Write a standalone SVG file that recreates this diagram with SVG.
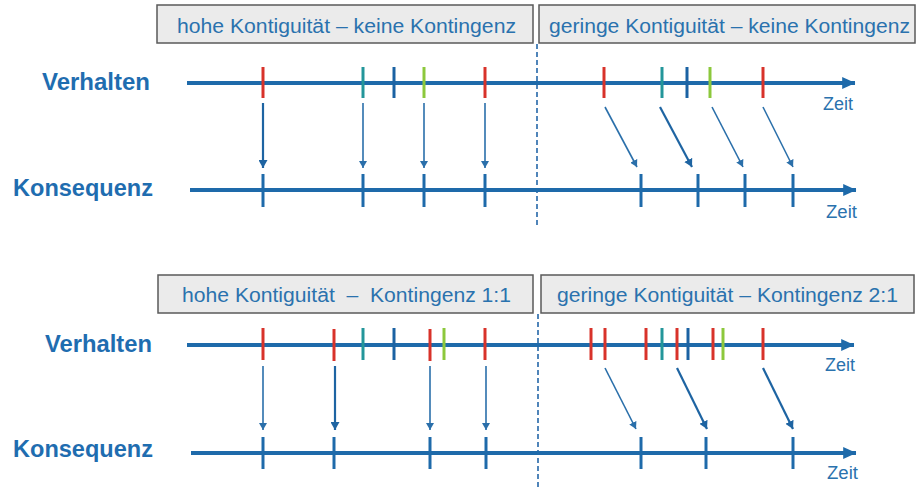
<svg xmlns="http://www.w3.org/2000/svg" width="916" height="487" viewBox="0 0 916 487">
  <style>
    .bg { fill: #ffffff; }
    .box { fill: #ebebeb; stroke: #5a5a5a; stroke-width: 1.5; }
    .boxtxt { font-family: "Liberation Sans", Arial, sans-serif; font-size: 20px; fill: #2a72ae; white-space: pre; }
    .lbl { font-family: "Liberation Sans", Arial, sans-serif; font-size: 23px; font-weight: bold; fill: #1f6db0; }
    .zeit { font-family: "Liberation Sans", Arial, sans-serif; font-size: 17.5px; fill: #2a72ae; }
    .axis { stroke: #1e6aaa; stroke-width: 4; fill: none; }
    .tick { stroke-width: 3; }
    .red { stroke: #d8322a; }
    .teal { stroke: #23969a; }
    .blue { stroke: #1b62a3; }
    .green { stroke: #8cc83c; }
    .ctick { stroke: #1e6aaa; stroke-width: 3; }
    .arr { stroke: #2a6faa; stroke-width: 1.6; fill: none; marker-end: url(#head); }
    .arr-b { stroke: #1e64a2; stroke-width: 2.2; fill: none; marker-end: url(#head2); }
    .divider { stroke: #3d78b2; stroke-width: 1.8; stroke-dasharray: 5 3; }
  </style>
  <defs>
    <marker id="axisHead" markerWidth="4" markerHeight="4" refX="3.2" refY="2" orient="auto" markerUnits="strokeWidth">
      <path d="M0,0.5 L3.3,2 L0,3.5 Z" fill="#1e6aaa"/>
    </marker>
    <marker id="head" markerWidth="8" markerHeight="8" refX="7" refY="4" orient="auto" markerUnits="userSpaceOnUse">
      <path d="M0,0 L7,4 L0,8 Z" fill="#2a6faa"/>
    </marker>
    <marker id="head2" markerWidth="9" markerHeight="9" refX="8" refY="4.5" orient="auto" markerUnits="userSpaceOnUse">
      <path d="M0,0 L8,4.5 L0,9 Z" fill="#1e64a2"/>
    </marker>
  </defs>
  <rect class="bg" x="0" y="0" width="916" height="487"/>

  <!-- dashed divider between the two conditions -->
  <g id="dividers">
    <line class="divider" x1="537" y1="44" x2="537" y2="228"/>
    <line class="divider" x1="538" y1="314" x2="538" y2="487"/>
  </g>

  <!-- ===== upper panel ===== -->
  <g id="title-top-left">
    <rect class="box" x="157" y="5" width="376" height="38"/>
    <text class="boxtxt" x="177" y="33" textLength="339" lengthAdjust="spacingAndGlyphs">hohe Kontiguität – keine Kontingenz</text>
  </g>
  <g id="title-top-right">
    <rect class="box" x="539" y="5" width="376" height="38"/>
    <text class="boxtxt" x="549" y="33" textLength="361" lengthAdjust="spacingAndGlyphs">geringe Kontiguität – keine Kontingenz</text>
  </g>

  <g id="verhalten-top">
    <text class="lbl" x="42" y="90" textLength="108" lengthAdjust="spacingAndGlyphs">Verhalten</text>
    <line class="axis" x1="187" y1="83" x2="855" y2="83" marker-end="url(#axisHead)"/>
    <text class="zeit" x="823" y="110" textLength="30" lengthAdjust="spacingAndGlyphs">Zeit</text>
    <line class="tick red" x1="263" y1="67" x2="263" y2="98"/>
    <line class="tick teal" x1="363" y1="67" x2="363" y2="98"/>
    <line class="tick blue" x1="394" y1="67" x2="394" y2="98"/>
    <line class="tick green" x1="424" y1="67" x2="424" y2="98"/>
    <line class="tick red" x1="485" y1="67" x2="485" y2="98"/>
    <line class="tick red" x1="604" y1="67" x2="604" y2="98"/>
    <line class="tick teal" x1="662" y1="67" x2="662" y2="98"/>
    <line class="tick blue" x1="687" y1="67" x2="687" y2="98"/>
    <line class="tick green" x1="710" y1="67" x2="710" y2="98"/>
    <line class="tick red" x1="763" y1="67" x2="763" y2="98"/>
  </g>

  <g id="konsequenz-top">
    <text class="lbl" x="13" y="196" textLength="140" lengthAdjust="spacingAndGlyphs">Konsequenz</text>
    <line class="axis" x1="190" y1="190" x2="856" y2="190" marker-end="url(#axisHead)"/>
    <text class="zeit" x="826" y="218" textLength="31" lengthAdjust="spacingAndGlyphs">Zeit</text>
    <line class="ctick" x1="263" y1="174" x2="263" y2="207"/>
    <line class="ctick" x1="363" y1="174" x2="363" y2="207"/>
    <line class="ctick" x1="424" y1="174" x2="424" y2="207"/>
    <line class="ctick" x1="485" y1="174" x2="485" y2="207"/>
    <line class="ctick" x1="641" y1="174" x2="641" y2="207"/>
    <line class="ctick" x1="698" y1="174" x2="698" y2="207"/>
    <line class="ctick" x1="745" y1="174" x2="745" y2="207"/>
    <line class="ctick" x1="793" y1="174" x2="793" y2="207"/>
  </g>

  <!-- ===== lower panel ===== -->
  <g id="title-bottom-left">
    <rect class="box" x="158" y="275" width="375" height="38"/>
    <text class="boxtxt" x="182" y="302" textLength="329" lengthAdjust="spacingAndGlyphs" xml:space="preserve">hohe Kontiguität  –  Kontingenz 1:1</text>
  </g>
  <g id="title-bottom-right">
    <rect class="box" x="541" y="275" width="373" height="38"/>
    <text class="boxtxt" x="557" y="302" textLength="341" lengthAdjust="spacingAndGlyphs">geringe Kontiguität – Kontingenz 2:1</text>
  </g>

  <g id="verhalten-bottom">
    <text class="lbl" x="45" y="352" textLength="107" lengthAdjust="spacingAndGlyphs">Verhalten</text>
    <line class="axis" x1="187" y1="345" x2="854" y2="345" marker-end="url(#axisHead)"/>
    <text class="zeit" x="825" y="371" textLength="30" lengthAdjust="spacingAndGlyphs">Zeit</text>
    <line class="tick red" x1="263" y1="328" x2="263" y2="360"/>
    <line class="tick red" x1="334" y1="329" x2="334" y2="361"/>
    <line class="tick teal" x1="363" y1="328" x2="363" y2="360"/>
    <line class="tick blue" x1="394" y1="328" x2="394" y2="360"/>
    <line class="tick red" x1="430" y1="329" x2="430" y2="361"/>
    <line class="tick green" x1="444" y1="328" x2="444" y2="360"/>
    <line class="tick red" x1="485" y1="328" x2="485" y2="360"/>
    <line class="tick red" x1="591" y1="328" x2="591" y2="360"/>
    <line class="tick red" x1="605" y1="328" x2="605" y2="360"/>
    <line class="tick red" x1="646" y1="328" x2="646" y2="360"/>
    <line class="tick teal" x1="662" y1="328" x2="662" y2="360"/>
    <line class="tick red" x1="677" y1="328" x2="677" y2="360"/>
    <line class="tick blue" x1="688" y1="328" x2="688" y2="360"/>
    <line class="tick red" x1="713" y1="328" x2="713" y2="360"/>
    <line class="tick green" x1="723" y1="328" x2="723" y2="360"/>
    <line class="tick red" x1="763" y1="328" x2="763" y2="360"/>
  </g>

  <g id="konsequenz-bottom">
    <text class="lbl" x="13" y="457" textLength="140" lengthAdjust="spacingAndGlyphs">Konsequenz</text>
    <line class="axis" x1="191" y1="453" x2="856" y2="453" marker-end="url(#axisHead)"/>
    <text class="zeit" x="827" y="479" textLength="31" lengthAdjust="spacingAndGlyphs">Zeit</text>
    <line class="ctick" x1="263" y1="437" x2="263" y2="469"/>
    <line class="ctick" x1="334" y1="437" x2="334" y2="469"/>
    <line class="ctick" x1="430" y1="437" x2="430" y2="469"/>
    <line class="ctick" x1="486" y1="437" x2="486" y2="469"/>
    <line class="ctick" x1="641" y1="437" x2="641" y2="469"/>
    <line class="ctick" x1="706" y1="437" x2="706" y2="469"/>
    <line class="ctick" x1="793" y1="437" x2="793" y2="469"/>
  </g>

  <!-- behaviour → consequence links -->
  <g id="connectors">
    <line class="arr-b" x1="263" y1="103" x2="263" y2="168"/>
    <line class="arr" x1="363" y1="103" x2="363" y2="168"/>
    <line class="arr" x1="424" y1="103" x2="424" y2="168"/>
    <line class="arr" x1="485" y1="103" x2="485" y2="168"/>
    <line class="arr" x1="605" y1="107" x2="637" y2="167"/>
    <line class="arr-b" x1="660" y1="107" x2="692" y2="167"/>
    <line class="arr" x1="712" y1="107" x2="743" y2="167"/>
    <line class="arr" x1="763" y1="107" x2="793" y2="167"/>

    <line class="arr" x1="263" y1="366" x2="263" y2="430"/>
    <line class="arr-b" x1="335" y1="366" x2="335" y2="430"/>
    <line class="arr" x1="430" y1="366" x2="430" y2="430"/>
    <line class="arr" x1="486" y1="366" x2="486" y2="430"/>
    <line class="arr" x1="605" y1="368" x2="636" y2="429"/>
    <line class="arr-b" x1="677" y1="368" x2="707" y2="429"/>
    <line class="arr-b" x1="763" y1="368" x2="793" y2="429"/>
  </g>
</svg>
